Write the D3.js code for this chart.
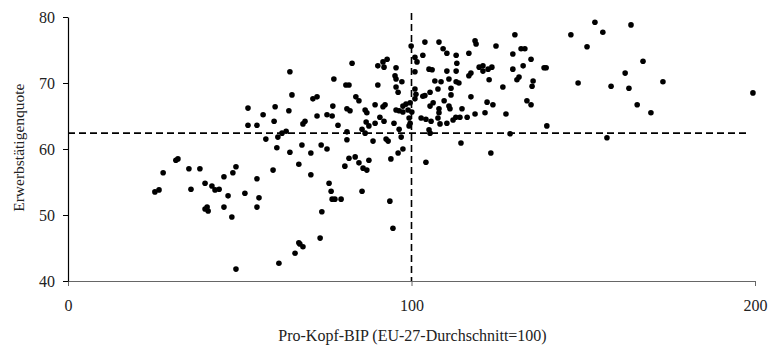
<!DOCTYPE html>
<html>
<head>
<meta charset="utf-8">
<script src="https://cdn.jsdelivr.net/npm/d3@7"></script>
<style>
  html, body { margin: 0; padding: 0; background: #fff; }
  text { font-family: "Liberation Serif", "Times New Roman", serif; }
</style>
</head>
<body>
<script>
// Pro-Kopf-BIP (EU-27 = 100) and Erwerbstätigenquote per region
const gdpPerCapita = [
  25.3,26.5,27.7,31.4,32.0,35.2,38.4,35.8,39.9,41.9,42.8,44.0,45.4,48.0,48.9,46.6,39.9,40.5,40.8,45.4,
  47.7,51.5,55.0,55.6,55.0,52.4,52.4,48.9,56.8,55.0,60.0,60.3,64.3,64.6,65.2,57.6,61.1,62.3,63.5,60.8,
  64.6,68.1,70.7,73.7,75.4,68.4,69.0,72.5,75.4,76.9,78.6,71.3,72.5,77.4,80.9,81.8,82.7,77.1,81.2,82.1,
  83.8,84.7,86.5,87.0,86.8,85.6,87.6,86.5,89.4,89.4,91.7,92.3,90.8,92.0,94.9,90.2,92.9,91.7,90.2,92.0,
  95.5,95.2,95.5,97.2,95.5,96.1,95.5,96.4,97.5,98.4,99.6,97.5,99.0,100.1,99.3,99.3,99.6,96.4,97.0,97.5,
  96.1,94.0,92.6,93.2,88.8,81.2,81.2,81.8,83.6,87.6,84.7,85.9,87.0,80.6,67.2,59.7,70.7,76.0,76.6,76.9,
  77.7,79.5,85.6,73.9,93.7,94.6,73.4,67.2,67.5,68.4,66.1,61.4,
  102.8,104.2,105.7,107.7,108.3,110.3,105.1,105.4,104.2,112.1,112.9,114.1,116.2,114.4,118.5,121.4,123.1,127.5,128.7,139.4,
  156.9,169.7,199.4,165.7,173.2,163.3,158.1,148.5,162.2,167.4,151.1,163.9,155.7,153.4,146.4,130.1,129.5,131.9,133.0,134.8,
  129.5,132.5,138.6,139.2,131.3,130.7,135.4,135.1,126.6,133.6,134.8,
  99.9,103.9,108.0,109.2,110.3,113.0,118.5,118.8,116.7,124.6,103.3,101.0,101.6,113.2,101.0,105.1,106.0,110.3,113.0,116.7,
  117.3,119.7,120.8,120.8,122.3,123.4,122.6,106.8,108.6,110.9,113.0,113.8,107.7,111.5,111.5,101.0,101.3,101.0,103.3,105.4,
  103.9,106.3,105.4,108.0,108.0,110.9,111.2,109.5,114.7,117.3,122.0,123.7
];
const employmentRate = [
  53.5,53.8,56.4,58.3,58.5,57.0,57.0,53.9,54.8,54.4,53.8,53.9,55.8,56.4,57.3,52.9,50.9,51.2,50.6,51.2,
  49.7,53.3,55.5,52.6,51.2,63.6,66.2,41.8,65.2,63.6,64.2,66.4,65.8,71.7,68.2,61.5,61.8,62.4,62.7,60.2,
  59.5,60.6,59.4,60.6,60.0,63.8,64.2,65.0,65.2,65.0,63.6,67.6,67.9,70.6,69.7,69.7,73.0,66.5,66.1,65.8,
  67.9,67.3,65.9,65.5,64.1,63.0,63.5,62.4,66.7,63.9,66.4,66.7,64.8,64.2,63.9,69.7,73.6,73.2,72.6,72.4,
  72.3,71.1,70.6,70.2,69.4,68.6,65.9,65.8,66.5,66.8,67.0,65.6,65.9,65.6,64.7,63.5,63.9,63.0,61.8,60.0,
  59.4,58.5,61.5,61.2,61.2,62.6,61.4,58.6,58.8,58.3,57.9,57.1,56.8,57.4,57.7,56.8,56.1,54.8,53.6,52.4,
  52.4,52.4,53.6,50.5,52.1,48.0,46.5,45.8,45.6,45.2,44.2,42.7,
  64.7,64.5,64.2,64.7,63.8,63.9,62.9,62.4,58.0,64.4,64.8,64.8,64.8,60.9,65.3,65.5,59.4,65.3,62.3,63.5,
  61.7,65.5,68.5,66.7,70.2,69.2,69.5,70.0,71.5,73.3,75.5,78.8,77.7,79.2,77.3,77.3,74.4,75.2,75.2,73.6,
  72.1,72.6,72.3,72.3,70.9,70.5,70.3,69.5,69.4,67.3,66.7,
  75.6,76.2,76.2,75.2,74.5,74.2,76.4,75.9,74.5,75.6,74.2,73.9,73.2,73.0,71.7,72.1,72.0,71.8,71.8,71.1,
  71.5,72.4,72.6,71.8,72.1,72.4,70.5,70.3,70.2,70.6,70.2,70.0,69.1,69.2,68.2,69.1,68.3,67.6,68.0,68.6,
  68.1,67.0,66.5,66.1,65.5,66.5,66.1,67.3,66.1,67.9,67.1,66.7
];
const xTicks = [0, 100, 200];
const yTicks = [40, 50, 60, 70, 80];
const avgGdp = 100;          // EU-27 average
const avgEmployment = 62.4;  // reference employment rate
const xTitle = "Pro-Kopf-BIP (EU-27-Durchschnitt=100)";
const yTitle = "Erwerbstätigenquote";

const W = 771, H = 348;
const svg = d3.select("body").append("svg").attr("width", W).attr("height", H);

const x = d3.scaleLinear().domain([0, 200]).range([68, 755]);
const y = d3.scaleLinear().domain([40, 80]).range([281, 17]);

// reference lines
svg.append("line")
  .attr("x1", x(0)).attr("x2", x(198)).attr("y1", y(avgEmployment)).attr("y2", y(avgEmployment))
  .attr("stroke", "#000").attr("stroke-width", 1.6).attr("stroke-dasharray", "7,4");
svg.append("line")
  .attr("x1", x(avgGdp)).attr("x2", x(avgGdp)).attr("y1", y(80.6)).attr("y2", y(40))
  .attr("stroke", "#000").attr("stroke-width", 1.6).attr("stroke-dasharray", "7,4");

// axes
const xAxis = svg.append("g").attr("transform", `translate(0,${y(40)})`)
  .call(d3.axisBottom(x).tickValues(xTicks).tickSize(5).tickSizeOuter(0).tickPadding(14).tickFormat(d3.format("d")));
xAxis.select(".domain").attr("stroke", "#666").attr("stroke-width", 1.2);
xAxis.selectAll(".tick line").attr("stroke", "#666");
xAxis.selectAll("text").attr("font-size", 16).attr("font-family", "Liberation Serif").attr("fill", "#222");

const yAxis = svg.append("g").attr("transform", `translate(${x(0)},0)`)
  .call(d3.axisLeft(y).tickValues(yTicks).tickSize(5).tickSizeOuter(0).tickPadding(8).tickFormat(d3.format("d")));
yAxis.select(".domain").attr("stroke", "#000").attr("stroke-width", 1.2);
yAxis.selectAll("text").attr("font-size", 16).attr("font-family", "Liberation Serif").attr("fill", "#222");

// points
const pts = gdpPerCapita.map((g, i) => [g, employmentRate[i]]);
svg.append("g").selectAll("circle").data(pts).join("circle")
  .attr("cx", d => x(d[0])).attr("cy", d => y(d[1])).attr("r", 2.8).attr("fill", "#000");

// titles
svg.append("text").attr("x", x(100) + 1).attr("y", 341).attr("text-anchor", "middle")
  .attr("font-size", 16).attr("fill", "#222").text(xTitle);
svg.append("text").attr("transform", `translate(24,${y(60.2)}) rotate(-90)`).attr("text-anchor", "middle")
  .attr("font-size", 15.5).attr("fill", "#222").text(yTitle);
</script>
</body>
</html>
